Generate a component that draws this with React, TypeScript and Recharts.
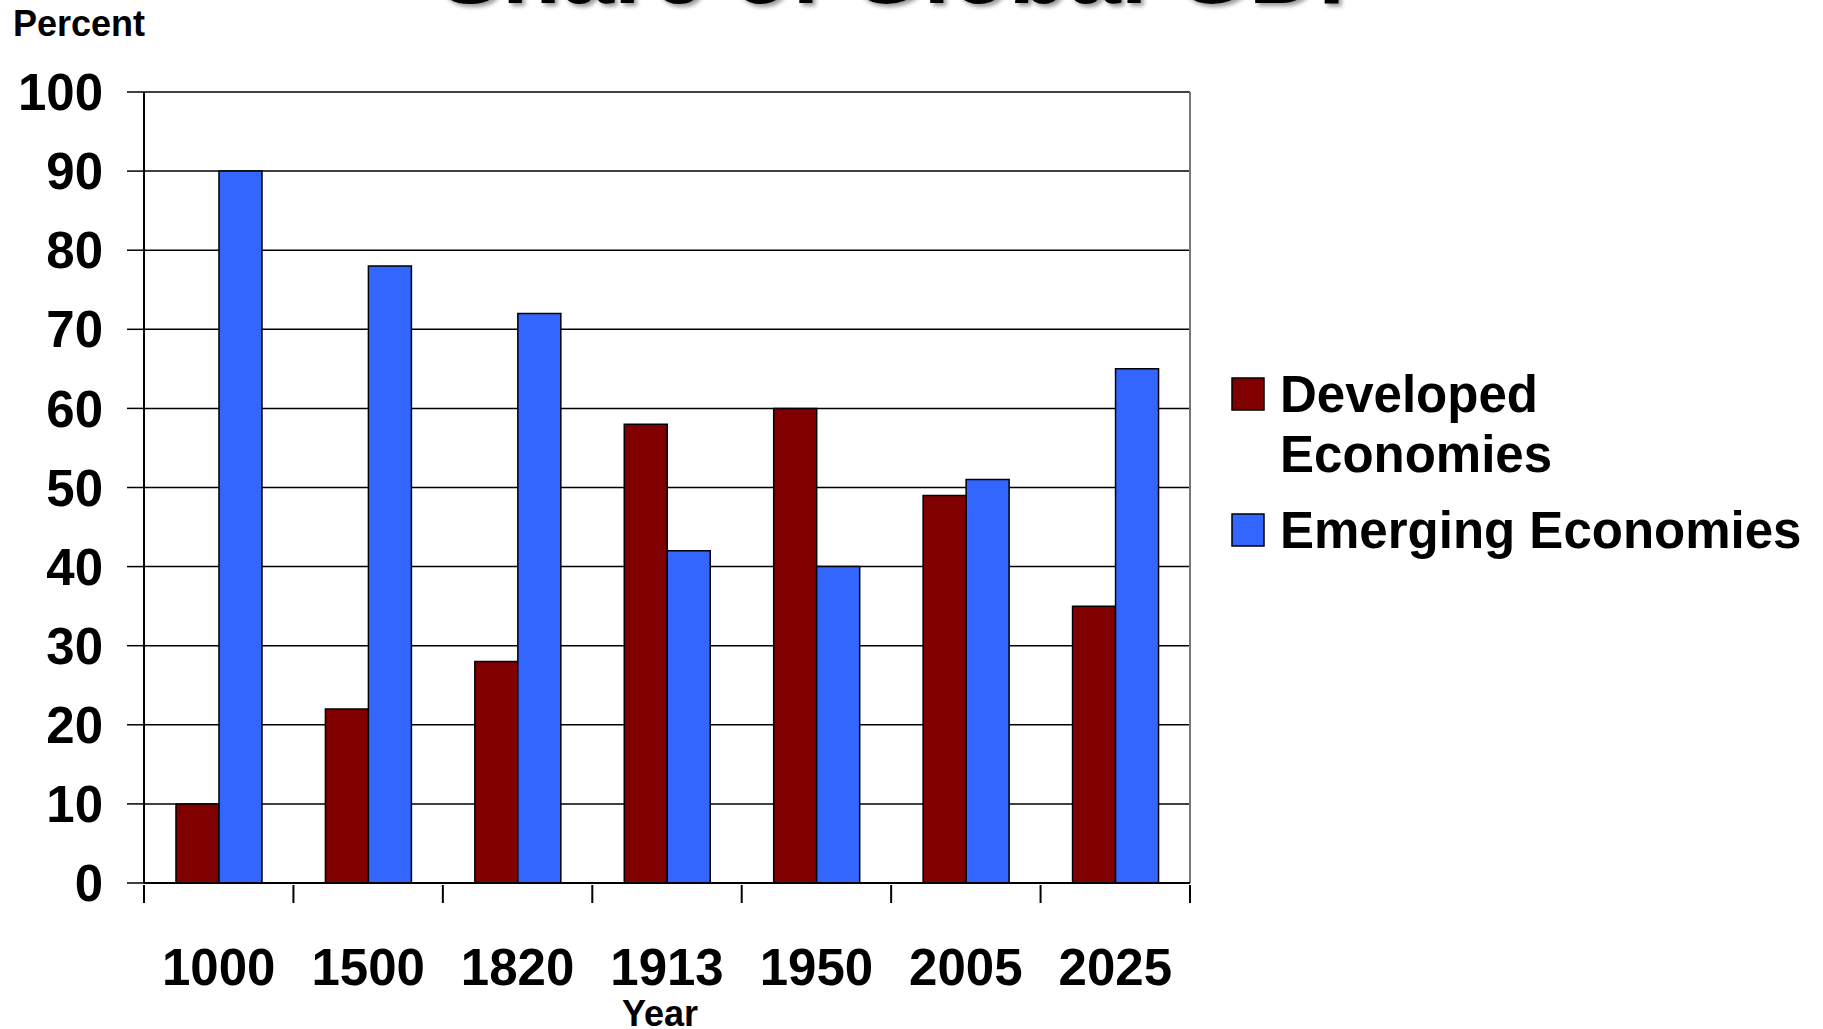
import { BarChart, Bar, XAxis, YAxis, CartesianGrid, Legend } from 'recharts'

const years = ['1000', '1500', '1820', '1913', '1950', '2005', '2025']
const developed = [10, 22, 28, 58, 60, 49, 35]
const emerging = [90, 78, 72, 42, 40, 51, 65]
const yTicks = [0, 10, 20, 30, 40, 50, 60, 70, 80, 90, 100]
const legendLines = [['Developed', 'Economies'], ['Emerging Economies']]

const chartData = years.map((year, i) => ({
  year,
  developed: developed[i],
  emerging: emerging[i],
}))

const FONT = '"Liberation Sans", Arial, sans-serif'

// label at band centre, tick marks at band edges (like the excel original)
const YearTick = (props: any) => {
  const { x, y, payload, index, visibleTicksCount } = props
  const half = payload.offset || 0
  const isLast = index === visibleTicksCount - 1
  return (
    <g>
      <line x1={x - half} x2={x - half} y1={y} y2={y + 18} stroke="#000" strokeWidth={2} />
      {isLast && <line x1={x + half} x2={x + half} y1={y} y2={y + 18} stroke="#000" strokeWidth={2} />}
      <text x={x} y={y} dy={100} textAnchor="middle" fontSize={51} fontWeight="bold" fontFamily={FONT} fill="#000">
        {payload.value}
      </text>
    </g>
  )
}

const rightEdge = ({ offset }: any) => [offset.left + offset.width]

const LegendBox = (props: any) => {
  const { payload } = props
  return (
    <svg width={600} height={220} style={{ display: 'block' }}>
      {(payload || []).map((entry: any, i: number) => {
        const top = i === 0 ? 18 : 154
        return (
          <g key={entry.value}>
            <rect x={12} y={top} width={32} height={32} fill={entry.color} stroke="#000" strokeWidth={1.5} />
            {legendLines[i].map((line, j) => (
              <text key={line} x={60} y={top + 34 + j * 60} fontSize={51} fontWeight="bold" fontFamily={FONT} fill="#000">
                {line}
              </text>
            ))}
          </g>
        )
      })}
    </svg>
  )
}

const App = () => {
  return (
    <div style={{ position: 'absolute', left: 0, top: 0 }}>
      <BarChart
        width={1823}
        height={1029}
        data={chartData}
        margin={{ top: 92, right: 633, left: 0, bottom: 0 }}
        barCategoryGap="21.4%"
        barGap={0}
      >
        <text x={438} y={3} fontSize={96} fontWeight="bold" fontFamily={FONT} fill="#000" style={{ filter: 'drop-shadow(3px 3px 2px #999)' }}>
          Share of Global GDP
        </text>
        <CartesianGrid vertical={false} stroke="#000" strokeWidth={1.5} />
        <CartesianGrid horizontal={false} verticalCoordinatesGenerator={rightEdge} stroke="#777" strokeWidth={2} />
        <XAxis
          dataKey="year"
          axisLine={{ stroke: '#000', strokeWidth: 2 }}
          tickLine={false}
          tickSize={0}
          tick={<YearTick />}
          height={146}
          interval={0}
          label={{
            value: 'Year',
            content: () => (
              <text x={660} y={1026} textAnchor="middle" fontSize={36} fontWeight="bold" fontFamily={FONT} fill="#000">
                Year
              </text>
            ),
          }}
        />
        <YAxis
          width={144}
          domain={[0, 100]}
          ticks={yTicks}
          interval={0}
          tickSize={17}
          tickMargin={24}
          axisLine={{ stroke: '#000', strokeWidth: 2 }}
          tickLine={{ stroke: '#000', strokeWidth: 1.5 }}
          tick={{ fontSize: 51, fontWeight: 'bold', fontFamily: FONT, fill: '#000' }}
          label={{
            value: 'Percent',
            content: () => (
              <text x={13} y={36} fontSize={36} fontWeight="bold" fontFamily={FONT} fill="#000">
                Percent
              </text>
            ),
          }}
        />
        <Legend
          layout="vertical"
          align="center"
          verticalAlign="middle"
          content={<LegendBox />}
          wrapperStyle={{ left: 1220, top: 360, width: 600 }}
        />
        <Bar dataKey="developed" name="Developed Economies" fill="#800000" stroke="#000" strokeWidth={1.5} isAnimationActive={false} />
        <Bar dataKey="emerging" name="Emerging Economies" fill="#3366FF" stroke="#000" strokeWidth={1.5} isAnimationActive={false} />
      </BarChart>
    </div>
  )
}

export default App
